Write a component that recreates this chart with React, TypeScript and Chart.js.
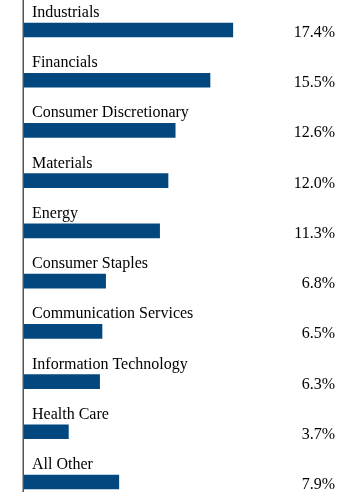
import React, { useEffect, useRef } from "react";
import Chart from "chart.js/auto";

const categories = [
  "Industrials",
  "Financials",
  "Consumer Discretionary",
  "Materials",
  "Energy",
  "Consumer Staples",
  "Communication Services",
  "Information Technology",
  "Health Care",
  "All Other",
];
const values = [17.4, 15.5, 12.6, 12.0, 11.3, 6.8, 6.5, 6.3, 3.7, 7.9];
const valueLabels = ["17.4%", "15.5%", "12.6%", "12.0%", "11.3%", "6.8%", "6.5%", "6.3%", "3.7%", "7.9%"];

const FONT = "16px 'Liberation Serif', 'Times New Roman', Times, serif";

const labelPlugin = {
  id: "labelPlugin",
  afterDatasetsDraw(chart: any) {
    const ctx = chart.ctx;
    const yScale = chart.scales.y;
    ctx.save();
    ctx.font = FONT;
    ctx.fillStyle = "#000000";
    categories.forEach((c, i) => {
      const yc = yScale.getPixelForValue(i);
      ctx.textAlign = "left";
      ctx.textBaseline = "alphabetic";
      ctx.fillText(c, 32, yc - 13);
      ctx.textAlign = "right";
      ctx.fillText(valueLabels[i], 335, yc + 7);
    });
    ctx.strokeStyle = "#555555";
    ctx.lineWidth = 1.5;
    ctx.beginPath();
    ctx.moveTo(23.25, 0);
    ctx.lineTo(23.25, 492);
    ctx.stroke();
    ctx.restore();
  },
};

export default function App() {
  const ref = useRef<HTMLCanvasElement>(null);
  useEffect(() => {
    document.body.style.margin = "0";
    let chart: any = null;
    let cancelled = false;
    const make = () => {
      if (cancelled) return;
      chart = new Chart(ref.current!, {
        type: "bar",
        data: {
          labels: categories,
          datasets: [
            {
              data: values,
              backgroundColor: "#02487f",
              barThickness: 14,
              clip: false as any,
            } as any,
          ],
        },
        options: {
          indexAxis: "y",
          animation: false,
          responsive: false,
          devicePixelRatio: 1,
          layout: { padding: { top: 30, bottom: 15, left: 24, right: 0 } },
          plugins: { legend: { display: false }, tooltip: { enabled: false } },
          scales: {
            x: { display: false, min: 0, max: 28 },
            y: { display: false, offset: false, grid: { display: false } },
          },
        },
        plugins: [labelPlugin],
      });
    };
    const fonts: any = (document as any).fonts;
    if (fonts && fonts.load) {
      fonts.load(FONT, "Industrials 17.4%").then(make, make);
    } else {
      make();
    }
    return () => {
      cancelled = true;
      if (chart) chart.destroy();
    };
  }, []);
  return (
    <div style={{ width: 360, height: 497, position: "relative" }}>
      <span
        style={{
          position: "absolute",
          left: 0,
          top: 0,
          opacity: 0,
          fontFamily: "'Liberation Serif', 'Times New Roman', serif",
          fontSize: 16,
          pointerEvents: "none",
        }}
      >
        Industrials
      </span>
      <canvas ref={ref} width={360} height={497} style={{ position: "absolute", left: 0, top: 0 }} />
    </div>
  );
}
